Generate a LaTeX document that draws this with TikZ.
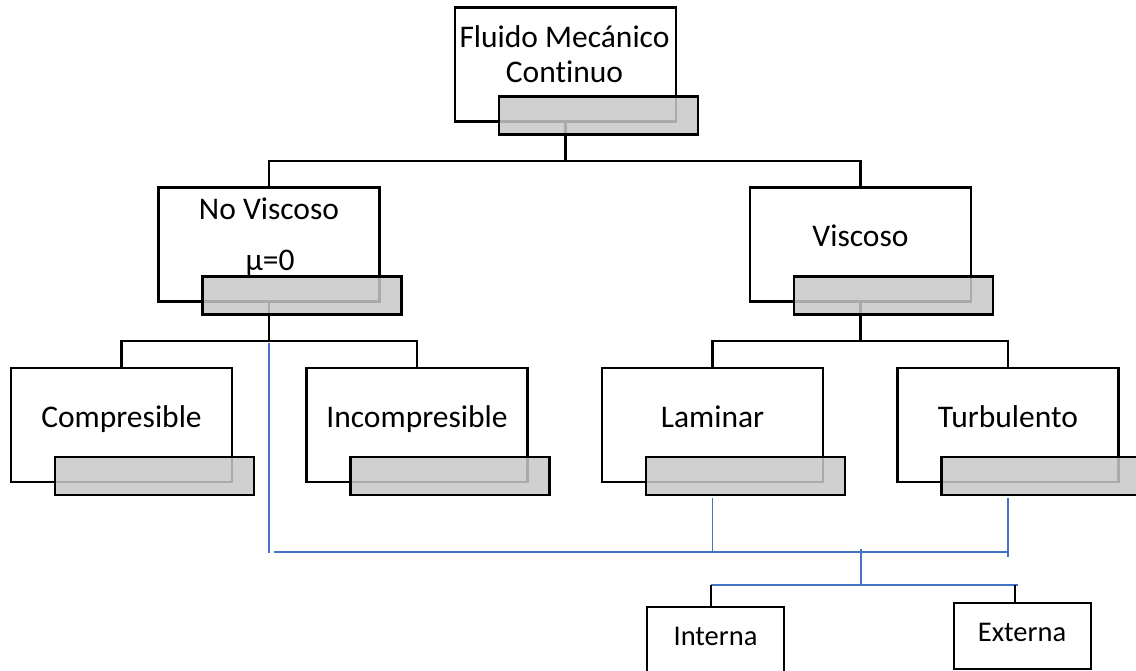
\documentclass[tikz,border=0pt]{standalone}
\usepackage{fontspec}
\setmainfont{Carlito}[Ligatures=NoCommon]
\definecolor{tabgray}{RGB}{200,200,200}
\definecolor{linkblue}{RGB}{68,114,196}
\tikzset{
  box/.style={draw, line width=2.5pt, fill=white, minimum width=221pt, minimum height=114pt, inner sep=0pt, text height=14pt, text depth=10pt},
  tab/.style={draw, line width=2.5pt, fill=tabgray, fill opacity=0.85, minimum width=199pt, minimum height=38pt, inner sep=0pt},
  smallbox/.style={draw, line width=2pt, fill=white, minimum width=137pt, minimum height=66pt, inner sep=0pt, font=\fontsize{28.5}{34}\selectfont, text height=14pt, text depth=4pt},
  link/.style={line width=2.5pt},
  thinlink/.style={line width=1.2pt},
  bluelink/.style={linkblue, line width=1.5pt}
}
\begin{document}
\begin{tikzpicture}[x=1pt, y=-1pt, font=\fontsize{31.5}{38}\selectfont]
	\useasboundingbox (0,0) rectangle (1136,671);
	% boxes
	\node[box] (fmc) at (565.5,64.5) {};
	\node[anchor=base] (fmc-a) at (564.5,48) {Fluido Mecánico};
	\node[anchor=base] (fmc-b) at (564.5,83) {Continuo};
	\node[box] (nv) at (269,244.5) {};
	\node[anchor=base] (nv-a) at (269,220) {No Viscoso};
	\node[anchor=base] (nv-b) at (270,271) {μ=0};
	\node[box] (vi) at (860.5,244.5) {Viscoso};
	\node[box] (co) at (121.5,425) {Compresible};
	\node[box] (in) at (417,425) {Incompresible};
	\node[box] (la) at (712.5,425) {Laminar};
	\node[box] (tu) at (1008,425) {Turbulento};
	\node[smallbox] (int) at (715.5,640) {Interna};
	\node[smallbox] (ext) at (1022,636) {Externa};
	% blue links
	\coordinate (bt) at (269,343); \coordinate (bb) at (269,553);
	\coordinate (bl) at (274,552); \coordinate (br) at (1008,552);
	\coordinate (la-b) at (712.5,498); \coordinate (tu-b) at (1008,498);
	\coordinate (bm) at (861,549); \coordinate (bd) at (861,586);
	\coordinate (il) at (711,585); \coordinate (ir) at (1018,585); \coordinate (ie) at (1015,585);
	\draw[bluelink] (bt) -- (bb);
	\draw[bluelink] (bl) -- (br);
	\draw[bluelink] (la-b) -- (la-b |- br);
	\draw[bluelink] (tu-b) -- ++(0,59);
	\draw[bluelink] (bm) -- (bd);
	\draw[bluelink] (il) -- (ir);
	\draw[thinlink] (il) -- (il |- int.north);
	\draw[thinlink] (ie) -- (ie |- ext.north);
	% black links
	\coordinate (j1) at (565.5,161); \coordinate (j2) at (269,341); \coordinate (j3) at (860.5,341);
	\draw[link] (fmc.south) -- (j1);
	\draw[link] (nv.north) |- (j1) -| (vi.north);
	\draw[link] (nv.south) -- (j2);
	\draw[link] (co.north) |- (j2) -| (in.north);
	\draw[link] (vi.south) -- (j3);
	\draw[link] (la.north) |- (j3) -| (tu.north);
	% tabs
	\foreach \n in {fmc,nv,vi,co,in,la,tu}
		\node[tab] (\n-tab) at ([shift={(33,51)}]\n.center) {};
\end{tikzpicture}
\end{document}
